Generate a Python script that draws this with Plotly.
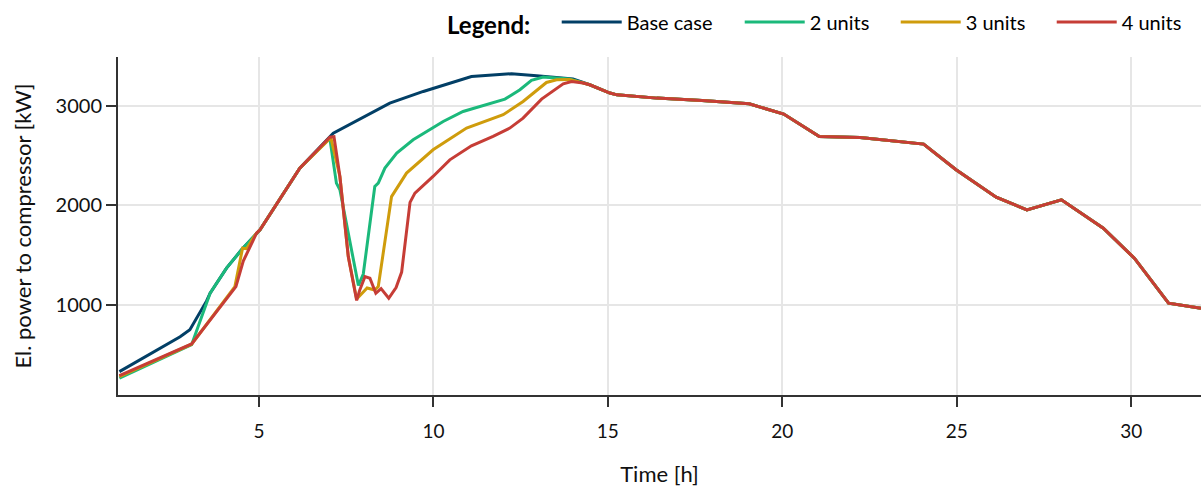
import plotly.graph_objects as go

# ---- data (hours, kW) ----
base_t = [1.0, 2.74, 3.02, 3.5, 3.6, 4.07, 4.5, 4.93, 5.03, 6.17, 7.03, 7.13, 8.75, 9.71, 11.09, 12.24, 12.96, 14.0, 14.48]
base_v = [330, 680, 750, 1040, 1118, 1369, 1553, 1720, 1754, 2374, 2685, 2725, 3027, 3144, 3294, 3322, 3302, 3268, 3211]

g2_t = [1.0, 3.07, 3.6, 4.07, 4.5, 4.93, 5.03, 6.17, 7.03, 7.22, 7.32, 7.85, 7.99, 8.32, 8.42, 8.61, 8.95, 9.42, 10.28, 10.85, 12.05, 12.48, 12.81, 13.15, 13.9, 14.48]
g2_v = [265, 600, 1118, 1369, 1553, 1720, 1754, 2374, 2675, 2223, 2156, 1195, 1310, 2189, 2223, 2374, 2525, 2658, 2842, 2943, 3067, 3161, 3255, 3288, 3270, 3211]

g3_t = [1.0, 3.07, 4.31, 4.53, 4.65, 4.89, 5.03, 6.17, 7.06, 7.32, 7.56, 7.8, 8.1, 8.32, 8.42, 8.8, 9.23, 9.99, 10.95, 12.0, 12.57, 13.24, 13.53, 13.9, 14.48]
g3_v = [280, 605, 1184, 1570, 1565, 1704, 1754, 2374, 2680, 2290, 1485, 1060, 1170, 1150, 1184, 2088, 2324, 2558, 2776, 2910, 3043, 3234, 3261, 3265, 3211]

g4_t = [1.0, 3.07, 4.34, 4.55, 4.84, 4.93, 5.03, 6.17, 7.03, 7.15, 7.32, 7.56, 7.8, 7.89, 8.04, 8.18, 8.35, 8.5, 8.72, 8.93, 9.09, 9.33, 9.47, 9.99, 10.47, 11.09, 11.71, 12.19, 12.57, 13.1, 13.72, 13.96, 14.29, 14.48]
g4_v = [290, 608, 1184, 1440, 1653, 1720, 1754, 2374, 2685, 2690, 2290, 1485, 1045, 1151, 1285, 1268, 1117, 1164, 1067, 1175, 1330, 2030, 2123, 2290, 2457, 2598, 2692, 2776, 2876, 3067, 3221, 3244, 3228, 3211]

# common tail (all cases coincide)
tail_t = [15.06, 15.26, 16.4, 17.7, 19.05, 20.04, 21.06, 22.23, 24.05, 24.98, 26.13, 27.01, 28.0, 29.2, 30.09, 31.07, 32.0]
tail_v = [3128, 3110, 3077, 3053, 3020, 2917, 2692, 2682, 2615, 2357, 2082, 1955, 2055, 1771, 1469, 1017, 967]

names = ["Base case", "2 units", "3 units", "4 units"]
colors = ["#023f66", "#1bb97b", "#cf9c0c", "#c63d36"]
legend_widths = [108, 81, 81, 74]
series = [(base_t, base_v), (g2_t, g2_v), (g3_t, g3_v), (g4_t, g4_v)]

FONT = "Lato"
fig = go.Figure()
for (t, v), name, col, lw in zip(series, names, colors, legend_widths):
    fig.add_trace(go.Scatter(
        x=t + tail_t, y=v + tail_v, mode="lines", name=name,
        line=dict(color=col, width=3), legendwidth=lw,
    ))

fig.update_layout(
    width=1201, height=488,
    margin=dict(l=118, r=0, t=57, b=93),
    paper_bgcolor="white", plot_bgcolor="white",
    font=dict(family=FONT, size=19, color="#111"),
    showlegend=True,
    legend=dict(
        orientation="h", x=1.0, xanchor="right", y=0.995, yref="container", yanchor="top",
        title=dict(text="<b>Legend:</b>   ", font=dict(size=24, color="#000")),
        font=dict(size=20, color="#000"),
        bgcolor="rgba(0,0,0,0)", itemwidth=60,
    ),
    xaxis=dict(
        range=[0.96, 32.0], tickvals=[5, 10, 15, 20, 25, 30],
        showgrid=True, gridcolor="#e6e6e6", gridwidth=2,
        showline=True, linecolor="#333", linewidth=2,
        ticks="outside", ticklen=10, tickcolor="#333", tickwidth=2,
        ticklabelstandoff=8,
        zeroline=False,
        title=dict(text="Time [h]", font=dict(size=22), standoff=26),
        tickfont=dict(size=19),
    ),
    yaxis=dict(
        range=[95, 3490], tickvals=[1000, 2000, 3000], tickformat="d",
        showgrid=True, gridcolor="#e6e6e6", gridwidth=2,
        showline=True, linecolor="#333", linewidth=2,
        ticks="outside", ticklen=10, tickcolor="#333", tickwidth=2,
        zeroline=False,
        title=dict(text="El. power to compressor [kW]", font=dict(size=22), standoff=18),
        tickfont=dict(size=20),
    ),
)

fig.write_html("out.html")
